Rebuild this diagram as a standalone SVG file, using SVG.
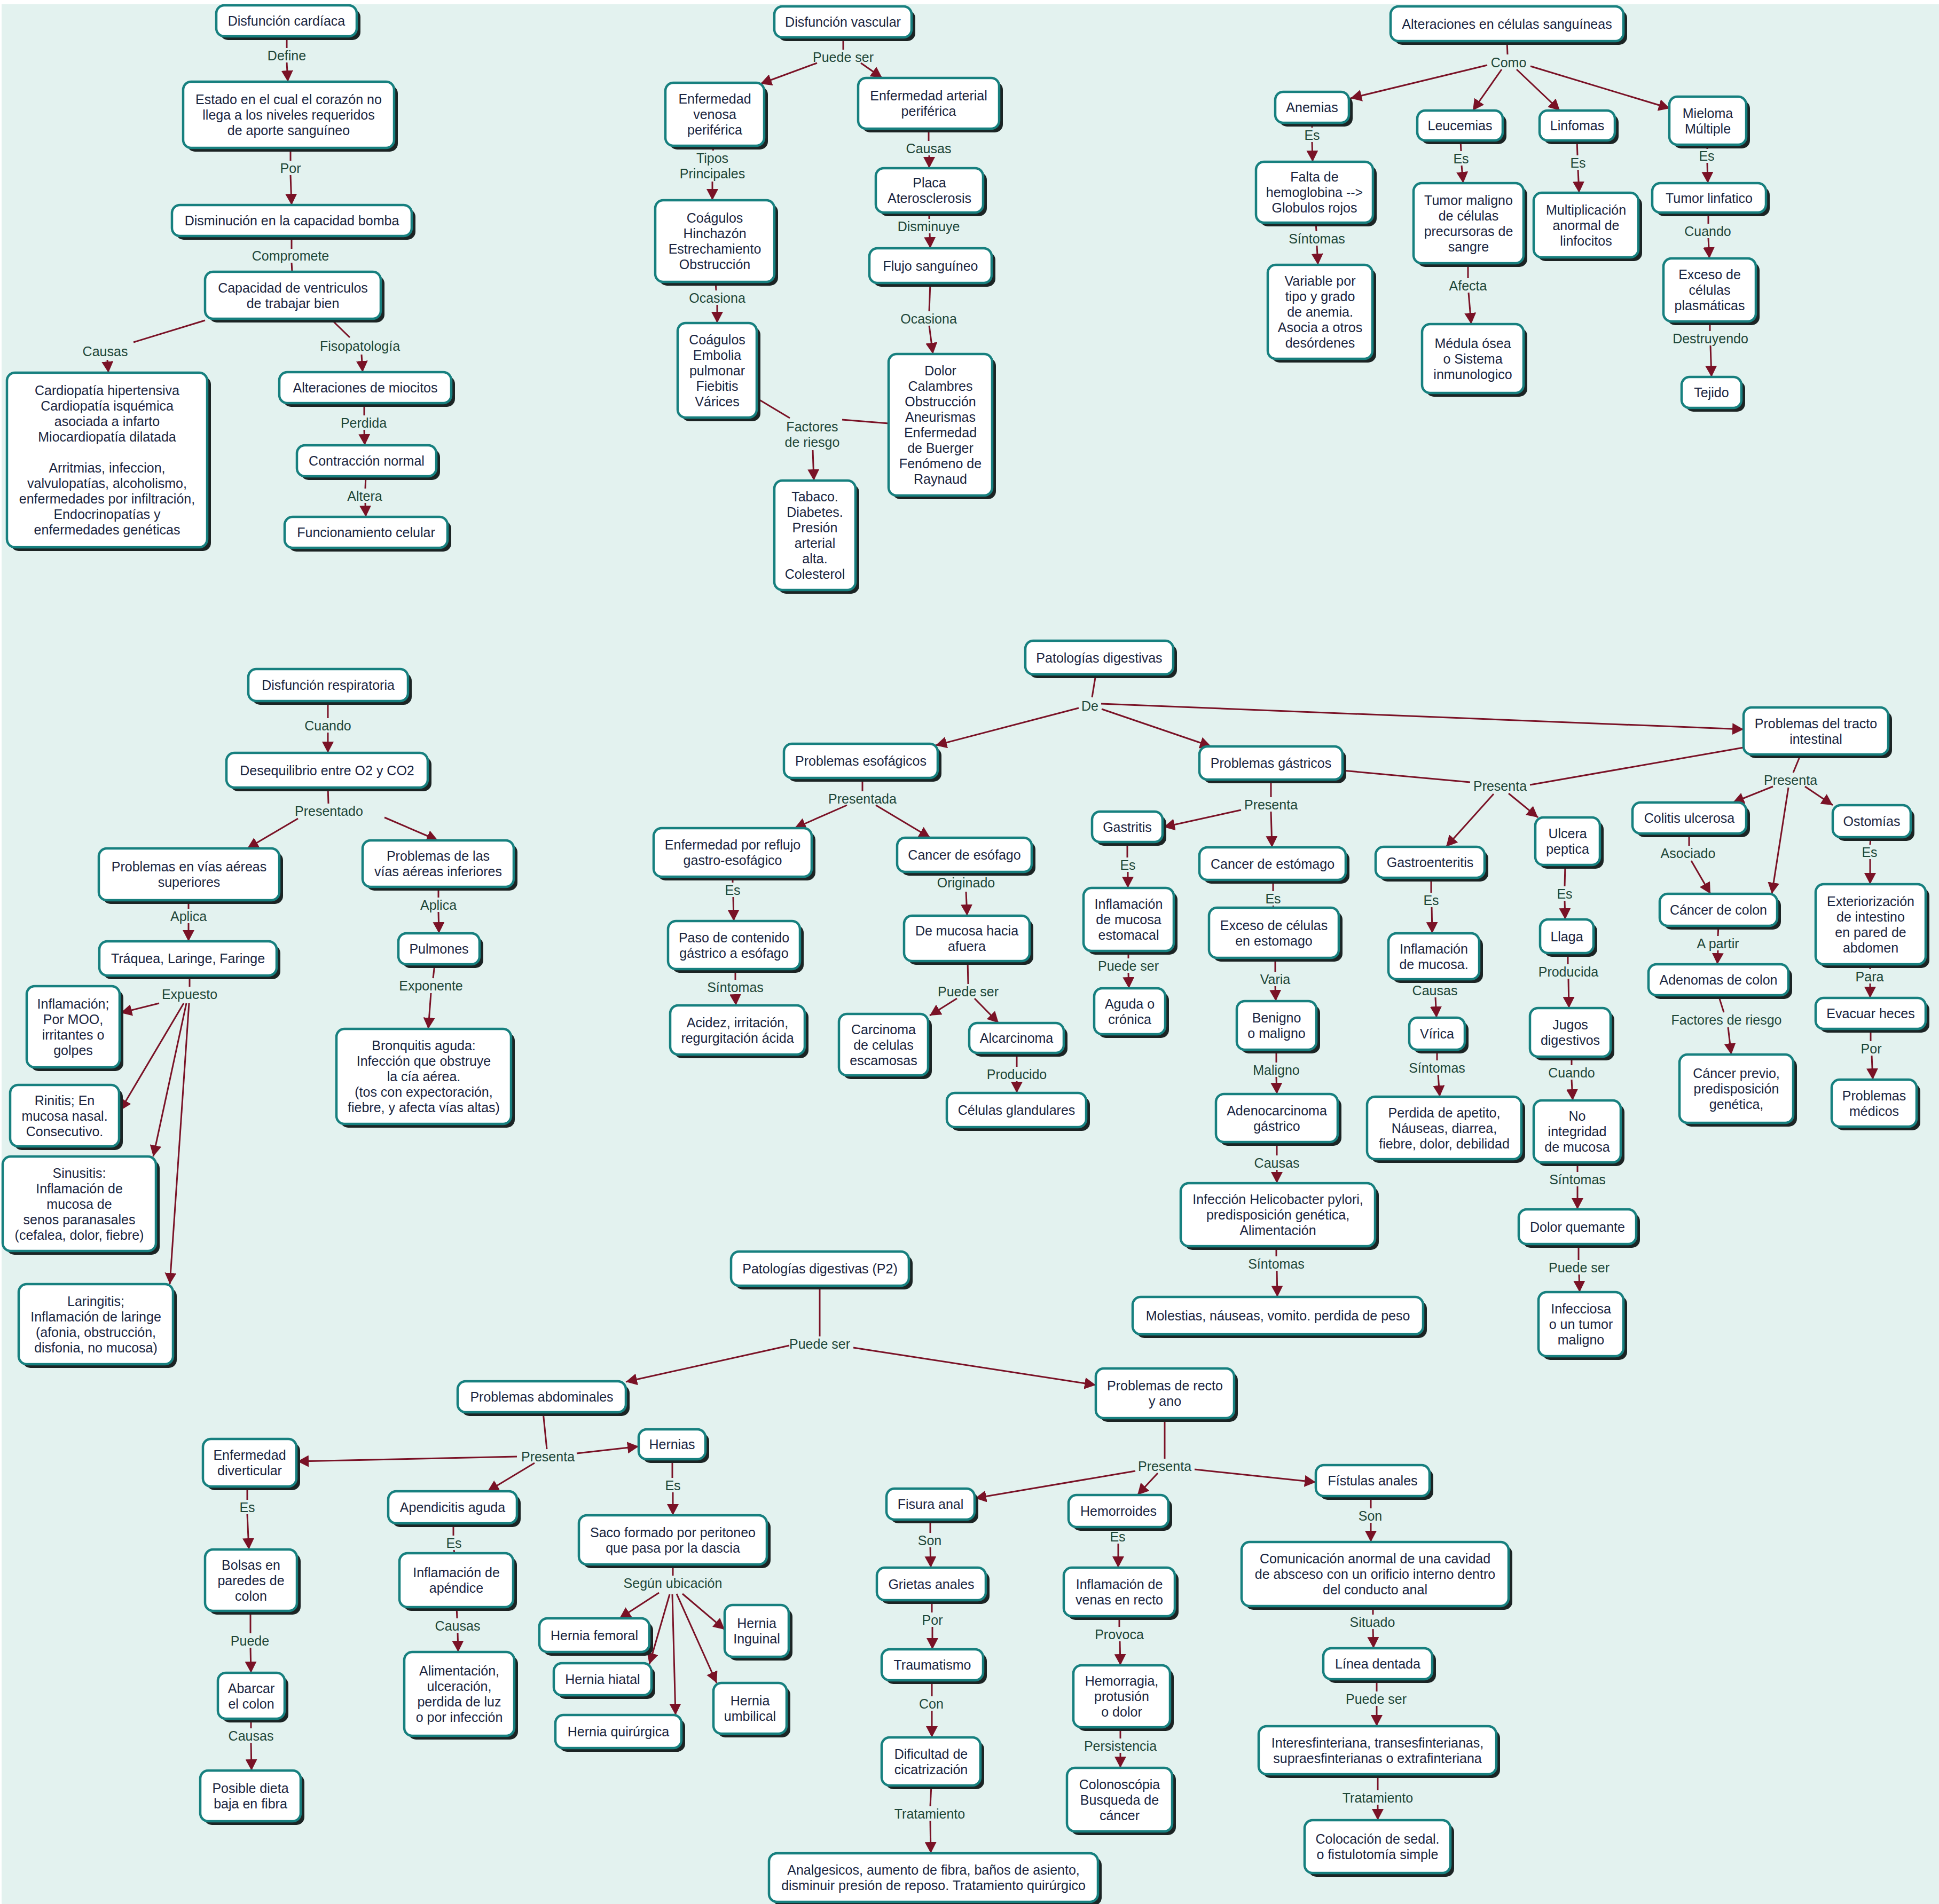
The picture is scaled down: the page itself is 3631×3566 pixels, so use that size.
<svg xmlns="http://www.w3.org/2000/svg" width="3631" height="3566" viewBox="0 0 3631 3566">
<defs>
<style>
.s{fill:#1c2424}
.b{fill:#fff;stroke:#17807f;stroke-width:4.5}
.t{font-family:"Liberation Sans",Arial,sans-serif;font-size:25px;fill:#1a2540;text-anchor:middle}
.l{font-family:"Liberation Sans",Arial,sans-serif;font-size:25px;fill:#1e4638;text-anchor:middle}
.c{stroke:#7a1226;stroke-width:3;fill:none}
.a{stroke:#7a1226;stroke-width:3;fill:none;marker-end:url(#ah)}
</style>
<marker id="ah" markerUnits="userSpaceOnUse" markerWidth="22" markerHeight="22" refX="21" refY="11" orient="auto"><path d="M0,0 L21,11 L0,22 z" fill="#7a1226"/></marker>
</defs>
<rect x="3" y="8" width="3628" height="3558" fill="#e3f2ef"/>

<g id="connectors">
<!-- cardiac -->
<path class="c" d="M537,68 L537,90"/><path class="a" d="M537,117 L539,153"/>
<path class="c" d="M544,277 L544,301"/><path class="a" d="M544,328 L546,384"/>
<path class="c" d="M546,442 L546,466"/><path class="c" d="M546,492 L547,509"/>
<path class="c" d="M384,600 L250,641"/><path class="a" d="M201,674 L203,698"/>
<path class="c" d="M620,598 L655,632"/><path class="a" d="M677,664 L679,697"/>
<path class="c" d="M682,755 L682,778"/><path class="a" d="M682,805 L683,834"/>
<path class="c" d="M685,892 L684,915"/><path class="a" d="M684,942 L685,968"/>
<!-- vascular -->
<path class="c" d="M1579,70 L1579,93"/>
<path class="a" d="M1530,118 L1424,157"/><path class="a" d="M1612,118 L1652,146"/>
<path class="c" d="M1337,273 L1335,282"/><path class="a" d="M1334,340 L1334,375"/>
<path class="c" d="M1340,528 L1341,544"/><path class="a" d="M1343,571 L1343,605"/>
<path class="c" d="M1419,747 L1479,783"/><path class="c" d="M1664,793 L1577,786"/>
<path class="a" d="M1522,843 L1524,900"/>
<path class="c" d="M1739,241 L1739,264"/><path class="a" d="M1740,291 L1740,315"/>
<path class="c" d="M1740,398 L1740,410"/><path class="a" d="M1741,437 L1742,465"/>
<path class="c" d="M1742,530 L1740,583"/><path class="a" d="M1740,610 L1747,663"/>
<!-- blood -->
<path class="c" d="M2822,77 L2823,102"/>
<path class="a" d="M2785,122 L2529,184"/><path class="a" d="M2812,130 L2758,207"/>
<path class="a" d="M2840,130 L2921,207"/><path class="a" d="M2866,124 L3127,203"/>
<path class="c" d="M2457,230 L2457,239"/><path class="a" d="M2457,266 L2458,303"/>
<path class="c" d="M2735,263 L2736,283"/><path class="a" d="M2737,310 L2740,343"/>
<path class="c" d="M2953,263 L2954,291"/><path class="a" d="M2955,318 L2957,361"/>
<path class="c" d="M3197,271 L3197,279"/><path class="a" d="M3197,305 L3198,343"/>
<path class="c" d="M2464,417 L2465,433"/><path class="a" d="M2466,460 L2468,496"/>
<path class="c" d="M2749,493 L2749,521"/><path class="a" d="M2750,548 L2755,607"/>
<path class="c" d="M3199,398 L3199,419"/><path class="a" d="M3199,446 L3201,484"/>
<path class="c" d="M3202,602 L3202,620"/><path class="a" d="M3203,647 L3205,706"/>
<!-- respiratory -->
<path class="c" d="M614,1313 L614,1345"/><path class="a" d="M614,1372 L614,1410"/>
<path class="c" d="M614,1475 L615,1505"/>
<path class="a" d="M558,1533 L463,1589"/><path class="a" d="M720,1531 L820,1574"/>
<path class="c" d="M353,1686 L353,1702"/><path class="a" d="M353,1729 L353,1763"/>
<path class="c" d="M355,1827 L355,1848"/>
<path class="a" d="M298,1879 L226,1897"/><path class="a" d="M344,1879 L225,2080"/>
<path class="a" d="M349,1879 L287,2166"/><path class="a" d="M354,1879 L318,2405"/>
<path class="c" d="M821,1661 L821,1681"/><path class="a" d="M821,1708 L822,1748"/>
<path class="c" d="M814,1806 L811,1832"/><path class="a" d="M807,1860 L802,1927"/>
<!-- digestive -->
<path class="c" d="M2052,1263 L2045,1306"/>
<path class="a" d="M2020,1326 L1752,1396"/><path class="a" d="M2063,1328 L2268,1398"/>
<path class="a" d="M2062,1318 L3265,1366"/>
<path class="c" d="M1615,1457 L1615,1482"/>
<path class="a" d="M1586,1508 L1488,1551"/><path class="a" d="M1640,1508 L1742,1569"/>
<path class="c" d="M1372,1642 L1372,1653"/><path class="a" d="M1373,1680 L1374,1725"/>
<path class="c" d="M1377,1815 L1377,1835"/><path class="a" d="M1377,1862 L1378,1883"/>
<path class="a" d="M1809,1670 L1811,1715"/>
<path class="c" d="M1812,1800 L1813,1843"/>
<path class="a" d="M1792,1870 L1741,1902"/><path class="a" d="M1825,1870 L1870,1916"/>
<path class="c" d="M1904,1972 L1904,1998"/><path class="a" d="M1904,2025 L1904,2047"/>
<path class="c" d="M2111,1577 L2111,1606"/><path class="a" d="M2112,1633 L2112,1663"/>
<path class="c" d="M2113,1781 L2113,1795"/><path class="a" d="M2113,1822 L2114,1851"/>
<path class="c" d="M2380,1460 L2380,1493"/>
<path class="a" d="M2324,1517 L2179,1549"/><path class="a" d="M2380,1520 L2382,1587"/>
<path class="c" d="M2384,1648 L2384,1669"/><path class="c" d="M2384,1696 L2385,1700"/>
<path class="c" d="M2388,1794 L2388,1820"/><path class="a" d="M2388,1847 L2389,1875"/>
<path class="c" d="M2390,1966 L2390,1990"/><path class="a" d="M2390,2017 L2391,2049"/>
<path class="c" d="M2391,2139 L2391,2164"/><path class="a" d="M2391,2191 L2391,2216"/>
<path class="c" d="M2390,2334 L2390,2353"/><path class="a" d="M2391,2380 L2392,2429"/>
<path class="c" d="M2514,1443 L2753,1465"/><path class="c" d="M2865,1470 L3265,1400"/>
<path class="a" d="M2797,1487 L2708,1586"/><path class="a" d="M2825,1486 L2880,1531"/>
<path class="c" d="M2680,1644 L2680,1672"/><path class="a" d="M2681,1699 L2682,1748"/>
<path class="a" d="M2688,1868 L2690,1906"/>
<path class="c" d="M2691,1966 L2691,1986"/><path class="a" d="M2693,2013 L2696,2054"/>
<path class="c" d="M2931,1620 L2930,1660"/><path class="a" d="M2930,1687 L2931,1722"/>
<path class="c" d="M2936,1785 L2936,1806"/><path class="a" d="M2937,1833 L2938,1888"/>
<path class="c" d="M2943,1979 L2943,1995"/><path class="a" d="M2943,2022 L2945,2061"/>
<path class="c" d="M2954,2177 L2954,2195"/><path class="a" d="M2954,2222 L2954,2265"/>
<path class="c" d="M2956,2330 L2956,2360"/><path class="a" d="M2957,2387 L2958,2420"/>
<path class="c" d="M3372,1413 L3358,1447"/>
<path class="a" d="M3320,1473 L3245,1503"/><path class="a" d="M3349,1475 L3318,1674"/>
<path class="a" d="M3380,1473 L3432,1508"/>
<path class="c" d="M3163,1561 L3163,1584"/><path class="a" d="M3167,1612 L3203,1674"/>
<path class="c" d="M3218,1734 L3217,1753"/><path class="a" d="M3217,1780 L3216,1806"/>
<path class="c" d="M3218,1864 L3228,1896"/><path class="a" d="M3236,1924 L3242,1975"/>
<path class="c" d="M3503,1568 L3502,1582"/><path class="a" d="M3502,1609 L3502,1656"/>
<path class="c" d="M3502,1806 L3502,1815"/><path class="a" d="M3502,1842 L3502,1869"/>
<path class="c" d="M3503,1927 L3503,1950"/><path class="a" d="M3505,1977 L3507,2022"/>
<!-- P2 -->
<path class="c" d="M1535,2408 L1535,2503"/>
<path class="a" d="M1478,2520 L1172,2588"/><path class="a" d="M1598,2524 L2052,2594"/>
<path class="c" d="M1017,2645 L1024,2714"/>
<path class="a" d="M968,2728 L557,2737"/><path class="a" d="M1001,2740 L913,2793"/>
<path class="a" d="M1080,2722 L1196,2709"/>
<path class="c" d="M463,2784 L463,2809"/><path class="a" d="M463,2836 L466,2902"/>
<path class="c" d="M469,3017 L469,3059"/><path class="a" d="M469,3086 L470,3133"/>
<path class="c" d="M470,3219 L470,3237"/><path class="a" d="M470,3264 L471,3316"/>
<path class="c" d="M849,2853 L849,2876"/><path class="c" d="M850,2903 L851,2909"/>
<path class="c" d="M855,3010 L856,3031"/><path class="a" d="M857,3058 L858,3094"/>
<path class="c" d="M1259,2733 L1259,2768"/><path class="a" d="M1260,2795 L1260,2838"/>
<path class="c" d="M1260,2930 L1260,2951"/>
<path class="a" d="M1234,2983 L1160,3031"/><path class="a" d="M1254,2986 L1216,3117"/>
<path class="a" d="M1259,2986 L1265,3212"/><path class="a" d="M1267,2985 L1342,3152"/>
<path class="a" d="M1278,2985 L1357,3052"/>
<path class="c" d="M2181,2656 L2181,2732"/>
<path class="a" d="M2126,2755 L1826,2806"/><path class="a" d="M2168,2759 L2130,2800"/>
<path class="a" d="M2237,2752 L2464,2776"/>
<path class="c" d="M1742,2846 L1742,2871"/><path class="a" d="M1742,2898 L1743,2936"/>
<path class="c" d="M1745,2997 L1745,3020"/><path class="a" d="M1746,3047 L1746,3089"/>
<path class="c" d="M1745,3147 L1745,3177"/><path class="a" d="M1745,3204 L1745,3254"/>
<path class="c" d="M1744,3344 L1742,3383"/><path class="a" d="M1742,3410 L1743,3471"/>
<path class="c" d="M2094,2860 L2094,2864"/><path class="a" d="M2094,2891 L2094,2936"/>
<path class="c" d="M2096,3027 L2096,3047"/><path class="a" d="M2097,3074 L2098,3119"/>
<path class="c" d="M2098,3235 L2098,3256"/><path class="a" d="M2098,3283 L2098,3311"/>
<path class="c" d="M2567,2802 L2567,2825"/><path class="a" d="M2567,2852 L2567,2888"/>
<path class="c" d="M2571,3008 L2571,3024"/><path class="a" d="M2571,3051 L2572,3087"/>
<path class="c" d="M2578,3145 L2578,3168"/><path class="a" d="M2578,3195 L2578,3233"/>
<path class="c" d="M2580,3323 L2580,3353"/><path class="a" d="M2580,3380 L2580,3409"/>
</g>

<g id="link-labels">
<text class="l" x="537" y="113">Define</text>
<text class="l" x="544" y="324">Por</text>
<text class="l" x="544" y="488">Compromete</text>
<text class="l" x="197" y="667">Causas</text>
<text class="l" x="674" y="657">Fisopatología</text>
<text class="l" x="681" y="801">Perdida</text>
<text class="l" x="683" y="938">Altera</text>
<text class="l" x="1579" y="116">Puede ser</text>
<text class="l" x="1334" y="305">Tipos<tspan x="1334" dy="29">Principales</tspan></text>
<text class="l" x="1343" y="567">Ocasiona</text>
<text class="l" x="1521" y="808">Factores<tspan x="1521" dy="29">de riesgo</tspan></text>
<text class="l" x="1739" y="287">Causas</text>
<text class="l" x="1739" y="433">Disminuye</text>
<text class="l" x="1739" y="606">Ocasiona</text>
<text class="l" x="2825" y="126">Como</text>
<text class="l" x="2457" y="262">Es</text>
<text class="l" x="2736" y="306">Es</text>
<text class="l" x="2955" y="314">Es</text>
<text class="l" x="3196" y="301">Es</text>
<text class="l" x="2466" y="456">Síntomas</text>
<text class="l" x="2749" y="544">Afecta</text>
<text class="l" x="3198" y="442">Cuando</text>
<text class="l" x="3203" y="643">Destruyendo</text>
<text class="l" x="614" y="1368">Cuando</text>
<text class="l" x="616" y="1528">Presentado</text>
<text class="l" x="353" y="1725">Aplica</text>
<text class="l" x="355" y="1871">Expuesto</text>
<text class="l" x="821" y="1704">Aplica</text>
<text class="l" x="807" y="1855">Exponente</text>
<text class="l" x="2041" y="1331">De</text>
<text class="l" x="1615" y="1505">Presentada</text>
<text class="l" x="1372" y="1676">Es</text>
<text class="l" x="1377" y="1858">Síntomas</text>
<text class="l" x="1809" y="1662">Originado</text>
<text class="l" x="1813" y="1866">Puede ser</text>
<text class="l" x="1904" y="2021">Producido</text>
<text class="l" x="2112" y="1629">Es</text>
<text class="l" x="2113" y="1818">Puede ser</text>
<text class="l" x="2380" y="1516">Presenta</text>
<text class="l" x="2384" y="1692">Es</text>
<text class="l" x="2388" y="1843">Varia</text>
<text class="l" x="2390" y="2013">Maligno</text>
<text class="l" x="2391" y="2187">Causas</text>
<text class="l" x="2390" y="2376">Síntomas</text>
<text class="l" x="2809" y="1481">Presenta</text>
<text class="l" x="2680" y="1695">Es</text>
<text class="l" x="2687" y="1864">Causas</text>
<text class="l" x="2691" y="2009">Síntomas</text>
<text class="l" x="2930" y="1683">Es</text>
<text class="l" x="2937" y="1829">Producida</text>
<text class="l" x="2943" y="2018">Cuando</text>
<text class="l" x="2954" y="2218">Síntomas</text>
<text class="l" x="2957" y="2383">Puede ser</text>
<text class="l" x="3353" y="1470">Presenta</text>
<text class="l" x="3161" y="1607">Asociado</text>
<text class="l" x="3217" y="1776">A partir</text>
<text class="l" x="3233" y="1919">Factores de riesgo</text>
<text class="l" x="3501" y="1605">Es</text>
<text class="l" x="3501" y="1838">Para</text>
<text class="l" x="3504" y="1973">Por</text>
<text class="l" x="1535" y="2526">Puede ser</text>
<text class="l" x="1026" y="2737">Presenta</text>
<text class="l" x="463" y="2832">Es</text>
<text class="l" x="468" y="3082">Puede</text>
<text class="l" x="470" y="3260">Causas</text>
<text class="l" x="850" y="2899">Es</text>
<text class="l" x="857" y="3054">Causas</text>
<text class="l" x="1260" y="2791">Es</text>
<text class="l" x="1260" y="2974">Según ubicación</text>
<text class="l" x="2181" y="2755">Presenta</text>
<text class="l" x="1741" y="2894">Son</text>
<text class="l" x="1746" y="3043">Por</text>
<text class="l" x="1744" y="3200">Con</text>
<text class="l" x="1741" y="3406">Tratamiento</text>
<text class="l" x="2093" y="2887">Es</text>
<text class="l" x="2096" y="3070">Provoca</text>
<text class="l" x="2098" y="3279">Persistencia</text>
<text class="l" x="2566" y="2848">Son</text>
<text class="l" x="2570" y="3047">Situado</text>
<text class="l" x="2577" y="3191">Puede ser</text>
<text class="l" x="2580" y="3376">Tratamiento</text>
</g>

<g id="n-disf-cardiaca"><rect class="s" x="412" y="17" width="263" height="58" rx="15"/><rect class="b" x="405" y="10" width="263" height="58" rx="15"/><text class="t" x="536.5" y="48">Disfunción cardíaca</text></g>
<g id="n-estado"><rect class="s" x="350" y="160" width="395" height="124" rx="15"/><rect class="b" x="343" y="153" width="395" height="124" rx="15"/><text class="t" x="540.5" y="195">Estado en el cual el corazón no<tspan x="540.5" dy="29">llega a los niveles requeridos</tspan><tspan x="540.5" dy="29">de aporte sanguíneo</tspan></text></g>
<g id="n-disminucion"><rect class="s" x="329" y="391" width="449" height="58" rx="15"/><rect class="b" x="322" y="384" width="449" height="58" rx="15"/><text class="t" x="546.5" y="422">Disminución en la capacidad bomba</text></g>
<g id="n-capacidad"><rect class="s" x="391" y="516" width="329" height="88" rx="15"/><rect class="b" x="384" y="509" width="329" height="88" rx="15"/><text class="t" x="548.5" y="547.5">Capacidad de ventriculos<tspan x="548.5" dy="29">de trabajar bien</tspan></text></g>
<g id="n-cardiopatias"><rect class="s" x="20" y="705" width="375" height="327" rx="15"/><rect class="b" x="13" y="698" width="375" height="327" rx="15"/><text class="t" x="200.5" y="740">Cardiopatía hipertensiva<tspan x="200.5" dy="29">Cardiopatía isquémica</tspan><tspan x="200.5" dy="29">asociada a infarto</tspan><tspan x="200.5" dy="29">Miocardiopatía dilatada</tspan><tspan x="200.5" dy="58">Arritmias, infeccion,</tspan><tspan x="200.5" dy="29">valvulopatías, alcoholismo,</tspan><tspan x="200.5" dy="29">enfermedades por infiltración,</tspan><tspan x="200.5" dy="29">Endocrinopatías y</tspan><tspan x="200.5" dy="29">enfermedades genéticas</tspan></text></g>
<g id="n-alt-miocitos"><rect class="s" x="530" y="704" width="322" height="58" rx="15"/><rect class="b" x="523" y="697" width="322" height="58" rx="15"/><text class="t" x="684" y="735">Alteraciones de miocitos</text></g>
<g id="n-contraccion"><rect class="s" x="563" y="841" width="261" height="58" rx="15"/><rect class="b" x="556" y="834" width="261" height="58" rx="15"/><text class="t" x="686.5" y="872">Contracción normal</text></g>
<g id="n-funcionamiento"><rect class="s" x="540" y="975" width="305" height="58" rx="15"/><rect class="b" x="533" y="968" width="305" height="58" rx="15"/><text class="t" x="685.5" y="1006">Funcionamiento celular</text></g>

<g id="n-disf-vascular"><rect class="s" x="1457" y="19" width="257" height="58" rx="15"/><rect class="b" x="1450" y="12" width="257" height="58" rx="15"/><text class="t" x="1578.5" y="50">Disfunción vascular</text></g>
<g id="n-venosa"><rect class="s" x="1253" y="162" width="185" height="118" rx="15"/><rect class="b" x="1246" y="155" width="185" height="118" rx="15"/><text class="t" x="1338.5" y="194">Enfermedad<tspan x="1338.5" dy="29">venosa</tspan><tspan x="1338.5" dy="29">periférica</tspan></text></g>
<g id="n-arterial"><rect class="s" x="1614" y="153" width="264" height="95" rx="15"/><rect class="b" x="1607" y="146" width="264" height="95" rx="15"/><text class="t" x="1739" y="188">Enfermedad arterial<tspan x="1739" dy="29">periférica</tspan></text></g>
<g id="n-coagulos1"><rect class="s" x="1234" y="382" width="223" height="153" rx="15"/><rect class="b" x="1227" y="375" width="223" height="153" rx="15"/><text class="t" x="1338.5" y="417">Coágulos<tspan x="1338.5" dy="29">Hinchazón</tspan><tspan x="1338.5" dy="29">Estrechamiento</tspan><tspan x="1338.5" dy="29">Obstrucción</tspan></text></g>
<g id="n-coagulos2"><rect class="s" x="1276" y="612" width="148" height="177" rx="15"/><rect class="b" x="1269" y="605" width="148" height="177" rx="15"/><text class="t" x="1343" y="644.5">Coágulos<tspan x="1343" dy="29">Embolia</tspan><tspan x="1343" dy="29">pulmonar</tspan><tspan x="1343" dy="29">Fiebitis</tspan><tspan x="1343" dy="29">Várices</tspan></text></g>
<g id="n-tabaco"><rect class="s" x="1457" y="907" width="152" height="205" rx="15"/><rect class="b" x="1450" y="900" width="152" height="205" rx="15"/><text class="t" x="1526" y="939">Tabaco.<tspan x="1526" dy="29">Diabetes.</tspan><tspan x="1526" dy="29">Presión</tspan><tspan x="1526" dy="29">arterial</tspan><tspan x="1526" dy="29">alta.</tspan><tspan x="1526" dy="29">Colesterol</tspan></text></g>
<g id="n-placa"><rect class="s" x="1647" y="322" width="201" height="83" rx="15"/><rect class="b" x="1640" y="315" width="201" height="83" rx="15"/><text class="t" x="1740.5" y="351">Placa<tspan x="1740.5" dy="29">Aterosclerosis</tspan></text></g>
<g id="n-flujo"><rect class="s" x="1635" y="472" width="229" height="65" rx="15"/><rect class="b" x="1628" y="465" width="229" height="65" rx="15"/><text class="t" x="1742.5" y="506.5">Flujo sanguíneo</text></g>
<g id="n-dolor"><rect class="s" x="1671" y="670" width="194" height="265" rx="15"/><rect class="b" x="1664" y="663" width="194" height="265" rx="15"/><text class="t" x="1761" y="703">Dolor<tspan x="1761" dy="29">Calambres</tspan><tspan x="1761" dy="29">Obstrucción</tspan><tspan x="1761" dy="29">Aneurismas</tspan><tspan x="1761" dy="29">Enfermedad</tspan><tspan x="1761" dy="29">de Buerger</tspan><tspan x="1761" dy="29">Fenómeno de</tspan><tspan x="1761" dy="29">Raynaud</tspan></text></g>

<g id="n-alt-celulas"><rect class="s" x="2611" y="19" width="436" height="65" rx="15"/><rect class="b" x="2604" y="12" width="436" height="65" rx="15"/><text class="t" x="2822" y="53.5">Alteraciones en células sanguíneas</text></g>
<g id="n-anemias"><rect class="s" x="2395" y="179" width="138" height="58" rx="15"/><rect class="b" x="2388" y="172" width="138" height="58" rx="15"/><text class="t" x="2457" y="210">Anemias</text></g>
<g id="n-leucemias"><rect class="s" x="2661" y="214" width="160" height="56" rx="15"/><rect class="b" x="2654" y="207" width="160" height="56" rx="15"/><text class="t" x="2734" y="244">Leucemias</text></g>
<g id="n-linfomas"><rect class="s" x="2890" y="214" width="141" height="56" rx="15"/><rect class="b" x="2883" y="207" width="141" height="56" rx="15"/><text class="t" x="2953.5" y="244">Linfomas</text></g>
<g id="n-mieloma"><rect class="s" x="3133" y="188" width="144" height="90" rx="15"/><rect class="b" x="3126" y="181" width="144" height="90" rx="15"/><text class="t" x="3198" y="220.5">Mieloma<tspan x="3198" dy="29">Múltiple</tspan></text></g>
<g id="n-falta"><rect class="s" x="2359" y="310" width="219" height="114" rx="15"/><rect class="b" x="2352" y="303" width="219" height="114" rx="15"/><text class="t" x="2461.5" y="340">Falta de<tspan x="2461.5" dy="29">hemoglobina --&gt;</tspan><tspan x="2461.5" dy="29">Globulos rojos</tspan></text></g>
<g id="n-variable"><rect class="s" x="2381" y="503" width="196" height="176" rx="15"/><rect class="b" x="2374" y="496" width="196" height="176" rx="15"/><text class="t" x="2472" y="535">Variable por<tspan x="2472" dy="29">tipo y grado</tspan><tspan x="2472" dy="29">de anemia.</tspan><tspan x="2472" dy="29">Asocia a otros</tspan><tspan x="2472" dy="29">desórdenes</tspan></text></g>
<g id="n-tumor-maligno"><rect class="s" x="2654" y="350" width="206" height="150" rx="15"/><rect class="b" x="2647" y="343" width="206" height="150" rx="15"/><text class="t" x="2750" y="383.5">Tumor maligno<tspan x="2750" dy="29">de células</tspan><tspan x="2750" dy="29">precursoras de</tspan><tspan x="2750" dy="29">sangre</tspan></text></g>
<g id="n-medula"><rect class="s" x="2670" y="614" width="190" height="129" rx="15"/><rect class="b" x="2663" y="607" width="190" height="129" rx="15"/><text class="t" x="2758" y="651.5">Médula ósea<tspan x="2758" dy="29">o Sistema</tspan><tspan x="2758" dy="29">inmunologico</tspan></text></g>
<g id="n-multiplicacion"><rect class="s" x="2879" y="368" width="196" height="121" rx="15"/><rect class="b" x="2872" y="361" width="196" height="121" rx="15"/><text class="t" x="2970" y="401.5">Multiplicación<tspan x="2970" dy="29">anormal de</tspan><tspan x="2970" dy="29">linfocitos</tspan></text></g>
<g id="n-tumor-linfatico"><rect class="s" x="3101" y="350" width="213" height="55" rx="15"/><rect class="b" x="3094" y="343" width="213" height="55" rx="15"/><text class="t" x="3200.5" y="379.5">Tumor linfatico</text></g>
<g id="n-exceso-plasm"><rect class="s" x="3122" y="491" width="173" height="118" rx="15"/><rect class="b" x="3115" y="484" width="173" height="118" rx="15"/><text class="t" x="3201.5" y="523">Exceso de<tspan x="3201.5" dy="29">células</tspan><tspan x="3201.5" dy="29">plasmáticas</tspan></text></g>
<g id="n-tejido"><rect class="s" x="3156" y="713" width="112" height="58" rx="15"/><rect class="b" x="3149" y="706" width="112" height="58" rx="15"/><text class="t" x="3205" y="744">Tejido</text></g>

<g id="n-disf-resp"><rect class="s" x="472" y="1260" width="299" height="60" rx="15"/><rect class="b" x="465" y="1253" width="299" height="60" rx="15"/><text class="t" x="614.5" y="1292">Disfunción respiratoria</text></g>
<g id="n-desequilibrio"><rect class="s" x="431" y="1417" width="377" height="65" rx="15"/><rect class="b" x="424" y="1410" width="377" height="65" rx="15"/><text class="t" x="612.5" y="1451.5">Desequilibrio entre O2 y CO2</text></g>
<g id="n-vias-sup"><rect class="s" x="192" y="1596" width="338" height="97" rx="15"/><rect class="b" x="185" y="1589" width="338" height="97" rx="15"/><text class="t" x="354" y="1632">Problemas en vías aéreas<tspan x="354" dy="29">superiores</tspan></text></g>
<g id="n-traquea"><rect class="s" x="193" y="1770" width="332" height="64" rx="15"/><rect class="b" x="186" y="1763" width="332" height="64" rx="15"/><text class="t" x="352" y="1804">Tráquea, Laringe, Faringe</text></g>
<g id="n-inflamacion-moo"><rect class="s" x="57" y="1854" width="174" height="152" rx="15"/><rect class="b" x="50" y="1847" width="174" height="152" rx="15"/><text class="t" x="137" y="1888.5">Inflamación;<tspan x="137" dy="29">Por MOO,</tspan><tspan x="137" dy="29">irritantes o</tspan><tspan x="137" dy="29">golpes</tspan></text></g>
<g id="n-rinitis"><rect class="s" x="26" y="2039" width="204" height="115" rx="15"/><rect class="b" x="19" y="2032" width="204" height="115" rx="15"/><text class="t" x="121" y="2069.5">Rinitis; En<tspan x="121" dy="29">mucosa nasal.</tspan><tspan x="121" dy="29">Consecutivo.</tspan></text></g>
<g id="n-sinusitis"><rect class="s" x="12" y="2173" width="287" height="177" rx="15"/><rect class="b" x="5" y="2166" width="287" height="177" rx="15"/><text class="t" x="148.5" y="2205.5">Sinusitis:<tspan x="148.5" dy="29">Inflamación de</tspan><tspan x="148.5" dy="29">mucosa de</tspan><tspan x="148.5" dy="29">senos paranasales</tspan><tspan x="148.5" dy="29">(cefalea, dolor, fiebre)</tspan></text></g>
<g id="n-laringitis"><rect class="s" x="42" y="2412" width="289" height="150" rx="15"/><rect class="b" x="35" y="2405" width="289" height="150" rx="15"/><text class="t" x="179.5" y="2445.5">Laringitis;<tspan x="179.5" dy="29">Inflamación de laringe</tspan><tspan x="179.5" dy="29">(afonia, obstrucción,</tspan><tspan x="179.5" dy="29">disfonia, no mucosa)</tspan></text></g>
<g id="n-vias-inf"><rect class="s" x="686" y="1581" width="283" height="87" rx="15"/><rect class="b" x="679" y="1574" width="283" height="87" rx="15"/><text class="t" x="820.5" y="1612">Problemas de las<tspan x="820.5" dy="29">vías aéreas inferiores</tspan></text></g>
<g id="n-pulmones"><rect class="s" x="753" y="1755" width="152" height="58" rx="15"/><rect class="b" x="746" y="1748" width="152" height="58" rx="15"/><text class="t" x="822" y="1786">Pulmones</text></g>
<g id="n-bronquitis"><rect class="s" x="637" y="1934" width="327" height="178" rx="15"/><rect class="b" x="630" y="1927" width="327" height="178" rx="15"/><text class="t" x="793.5" y="1967">Bronquitis aguda:<tspan x="793.5" dy="29">Infección que obstruye</tspan><tspan x="793.5" dy="29">la cía aérea.</tspan><tspan x="793.5" dy="29">(tos con expectoración,</tspan><tspan x="793.5" dy="29">fiebre, y afecta vías altas)</tspan></text></g>

<g id="n-pat-digestivas"><rect class="s" x="1927" y="1207" width="277" height="63" rx="15"/><rect class="b" x="1920" y="1200" width="277" height="63" rx="15"/><text class="t" x="2058.5" y="1240.5">Patologías digestivas</text></g>
<g id="n-esofagicos"><rect class="s" x="1475" y="1400" width="288" height="64" rx="15"/><rect class="b" x="1468" y="1393" width="288" height="64" rx="15"/><text class="t" x="1612" y="1434">Problemas esofágicos</text></g>
<g id="n-reflujo"><rect class="s" x="1231" y="1558" width="296" height="91" rx="15"/><rect class="b" x="1224" y="1551" width="296" height="91" rx="15"/><text class="t" x="1372" y="1591">Enfermedad por reflujo<tspan x="1372" dy="29">gastro-esofágico</tspan></text></g>
<g id="n-cancer-esofago"><rect class="s" x="1687" y="1576" width="252" height="64" rx="15"/><rect class="b" x="1680" y="1569" width="252" height="64" rx="15"/><text class="t" x="1806" y="1610">Cancer de esófago</text></g>
<g id="n-paso"><rect class="s" x="1258" y="1732" width="247" height="90" rx="15"/><rect class="b" x="1251" y="1725" width="247" height="90" rx="15"/><text class="t" x="1374.5" y="1764.5">Paso de contenido<tspan x="1374.5" dy="29">gástrico a esófago</tspan></text></g>
<g id="n-acidez"><rect class="s" x="1262" y="1890" width="252" height="92" rx="15"/><rect class="b" x="1255" y="1883" width="252" height="92" rx="15"/><text class="t" x="1381" y="1923.5">Acidez, irritación,<tspan x="1381" dy="29">regurgitación ácida</tspan></text></g>
<g id="n-mucosa-afuera"><rect class="s" x="1700" y="1722" width="235" height="85" rx="15"/><rect class="b" x="1693" y="1715" width="235" height="85" rx="15"/><text class="t" x="1810.5" y="1752">De mucosa hacia<tspan x="1810.5" dy="29">afuera</tspan></text></g>
<g id="n-carcinoma"><rect class="s" x="1578" y="1906" width="167" height="115" rx="15"/><rect class="b" x="1571" y="1899" width="167" height="115" rx="15"/><text class="t" x="1654.5" y="1936.5">Carcinoma<tspan x="1654.5" dy="29">de celulas</tspan><tspan x="1654.5" dy="29">escamosas</tspan></text></g>
<g id="n-alcarcinoma"><rect class="s" x="1822" y="1923" width="177" height="56" rx="15"/><rect class="b" x="1815" y="1916" width="177" height="56" rx="15"/><text class="t" x="1903.5" y="1953">Alcarcinoma</text></g>
<g id="n-glandulares"><rect class="s" x="1780" y="2054" width="261" height="64" rx="15"/><rect class="b" x="1773" y="2047" width="261" height="64" rx="15"/><text class="t" x="1903.5" y="2088">Células glandulares</text></g>
<g id="n-gastritis"><rect class="s" x="2052" y="1527" width="132" height="57" rx="15"/><rect class="b" x="2045" y="1520" width="132" height="57" rx="15"/><text class="t" x="2111" y="1557.5">Gastritis</text></g>
<g id="n-inflam-estomacal"><rect class="s" x="2036" y="1670" width="169" height="118" rx="15"/><rect class="b" x="2029" y="1663" width="169" height="118" rx="15"/><text class="t" x="2113.5" y="1702">Inflamación<tspan x="2113.5" dy="29">de mucosa</tspan><tspan x="2113.5" dy="29">estomacal</tspan></text></g>
<g id="n-aguda"><rect class="s" x="2056" y="1858" width="133" height="86" rx="15"/><rect class="b" x="2049" y="1851" width="133" height="86" rx="15"/><text class="t" x="2115.5" y="1888.5">Aguda o<tspan x="2115.5" dy="29">crónica</tspan></text></g>
<g id="n-gastricos"><rect class="s" x="2253" y="1405" width="268" height="62" rx="15"/><rect class="b" x="2246" y="1398" width="268" height="62" rx="15"/><text class="t" x="2380" y="1438">Problemas gástricos</text></g>
<g id="n-cancer-estomago"><rect class="s" x="2253" y="1594" width="274" height="61" rx="15"/><rect class="b" x="2246" y="1587" width="274" height="61" rx="15"/><text class="t" x="2383" y="1626.5">Cancer de estómago</text></g>
<g id="n-exceso-estomago"><rect class="s" x="2271" y="1707" width="243" height="94" rx="15"/><rect class="b" x="2264" y="1700" width="243" height="94" rx="15"/><text class="t" x="2385.5" y="1741.5">Exceso de células<tspan x="2385.5" dy="29">en estomago</tspan></text></g>
<g id="n-benigno"><rect class="s" x="2323" y="1882" width="149" height="91" rx="15"/><rect class="b" x="2316" y="1875" width="149" height="91" rx="15"/><text class="t" x="2390.5" y="1915">Benigno<tspan x="2390.5" dy="29">o maligno</tspan></text></g>
<g id="n-adenocarcinoma"><rect class="s" x="2284" y="2056" width="228" height="90" rx="15"/><rect class="b" x="2277" y="2049" width="228" height="90" rx="15"/><text class="t" x="2391" y="2088.5">Adenocarcinoma<tspan x="2391" dy="29">gástrico</tspan></text></g>
<g id="n-helicobacter"><rect class="s" x="2218" y="2223" width="364" height="118" rx="15"/><rect class="b" x="2211" y="2216" width="364" height="118" rx="15"/><text class="t" x="2393" y="2255">Infección Helicobacter pylori,<tspan x="2393" dy="29">predisposición genética,</tspan><tspan x="2393" dy="29">Alimentación</tspan></text></g>
<g id="n-molestias"><rect class="s" x="2128" y="2436" width="544" height="70" rx="15"/><rect class="b" x="2121" y="2429" width="544" height="70" rx="15"/><text class="t" x="2393" y="2473">Molestias, náuseas, vomito. perdida de peso</text></g>
<g id="n-gastroenteritis"><rect class="s" x="2583" y="1593" width="204" height="58" rx="15"/><rect class="b" x="2576" y="1586" width="204" height="58" rx="15"/><text class="t" x="2678" y="1624">Gastroenteritis</text></g>
<g id="n-ulcera"><rect class="s" x="2882" y="1538" width="121" height="89" rx="15"/><rect class="b" x="2875" y="1531" width="121" height="89" rx="15"/><text class="t" x="2935.5" y="1570">Ulcera<tspan x="2935.5" dy="29">peptica</tspan></text></g>
<g id="n-inflam-mucosa"><rect class="s" x="2607" y="1755" width="170" height="86" rx="15"/><rect class="b" x="2600" y="1748" width="170" height="86" rx="15"/><text class="t" x="2685" y="1785.5">Inflamación<tspan x="2685" dy="29">de mucosa.</tspan></text></g>
<g id="n-virica"><rect class="s" x="2646" y="1913" width="104" height="60" rx="15"/><rect class="b" x="2639" y="1906" width="104" height="60" rx="15"/><text class="t" x="2691" y="1945">Vírica</text></g>
<g id="n-perdida-apetito"><rect class="s" x="2567" y="2061" width="289" height="117" rx="15"/><rect class="b" x="2560" y="2054" width="289" height="117" rx="15"/><text class="t" x="2704.5" y="2092.5">Perdida de apetito,<tspan x="2704.5" dy="29">Náuseas, diarrea,</tspan><tspan x="2704.5" dy="29">fiebre, dolor, debilidad</tspan></text></g>
<g id="n-llaga"><rect class="s" x="2891" y="1729" width="100" height="63" rx="15"/><rect class="b" x="2884" y="1722" width="100" height="63" rx="15"/><text class="t" x="2934" y="1762.5">Llaga</text></g>
<g id="n-jugos"><rect class="s" x="2872" y="1895" width="151" height="91" rx="15"/><rect class="b" x="2865" y="1888" width="151" height="91" rx="15"/><text class="t" x="2940.5" y="1928">Jugos<tspan x="2940.5" dy="29">digestivos</tspan></text></g>
<g id="n-no-integridad"><rect class="s" x="2879" y="2068" width="163" height="116" rx="15"/><rect class="b" x="2872" y="2061" width="163" height="116" rx="15"/><text class="t" x="2953.5" y="2099">No<tspan x="2953.5" dy="29">integridad</tspan><tspan x="2953.5" dy="29">de mucosa</tspan></text></g>
<g id="n-dolor-quemante"><rect class="s" x="2851" y="2272" width="220" height="65" rx="15"/><rect class="b" x="2844" y="2265" width="220" height="65" rx="15"/><text class="t" x="2954" y="2306.5">Dolor quemante</text></g>
<g id="n-infecciosa"><rect class="s" x="2888" y="2427" width="159" height="120" rx="15"/><rect class="b" x="2881" y="2420" width="159" height="120" rx="15"/><text class="t" x="2960.5" y="2460">Infecciosa<tspan x="2960.5" dy="29">o un tumor</tspan><tspan x="2960.5" dy="29">maligno</tspan></text></g>
<g id="n-tracto"><rect class="s" x="3272" y="1332" width="271" height="88" rx="15"/><rect class="b" x="3265" y="1325" width="271" height="88" rx="15"/><text class="t" x="3400.5" y="1363.5">Problemas del tracto<tspan x="3400.5" dy="29">intestinal</tspan></text></g>
<g id="n-colitis"><rect class="s" x="3064" y="1510" width="213" height="58" rx="15"/><rect class="b" x="3057" y="1503" width="213" height="58" rx="15"/><text class="t" x="3163.5" y="1541">Colitis ulcerosa</text></g>
<g id="n-cancer-colon"><rect class="s" x="3115" y="1681" width="220" height="60" rx="15"/><rect class="b" x="3108" y="1674" width="220" height="60" rx="15"/><text class="t" x="3218" y="1713">Cáncer de colon</text></g>
<g id="n-adenomas"><rect class="s" x="3094" y="1813" width="262" height="58" rx="15"/><rect class="b" x="3087" y="1806" width="262" height="58" rx="15"/><text class="t" x="3218" y="1844">Adenomas de colon</text></g>
<g id="n-cancer-previo"><rect class="s" x="3152" y="1982" width="213" height="128" rx="15"/><rect class="b" x="3145" y="1975" width="213" height="128" rx="15"/><text class="t" x="3251.5" y="2019">Cáncer previo,<tspan x="3251.5" dy="29">predisposición</tspan><tspan x="3251.5" dy="29">genética,</tspan></text></g>
<g id="n-ostomias"><rect class="s" x="3439" y="1515" width="146" height="60" rx="15"/><rect class="b" x="3432" y="1508" width="146" height="60" rx="15"/><text class="t" x="3505" y="1547">Ostomías</text></g>
<g id="n-exteriorizacion"><rect class="s" x="3407" y="1663" width="206" height="150" rx="15"/><rect class="b" x="3400" y="1656" width="206" height="150" rx="15"/><text class="t" x="3503" y="1696.5">Exteriorización<tspan x="3503" dy="29">de intestino</tspan><tspan x="3503" dy="29">en pared de</tspan><tspan x="3503" dy="29">abdomen</tspan></text></g>
<g id="n-evacuar"><rect class="s" x="3407" y="1876" width="206" height="58" rx="15"/><rect class="b" x="3400" y="1869" width="206" height="58" rx="15"/><text class="t" x="3503" y="1907">Evacuar heces</text></g>
<g id="n-prob-medicos"><rect class="s" x="3437" y="2029" width="159" height="88" rx="15"/><rect class="b" x="3430" y="2022" width="159" height="88" rx="15"/><text class="t" x="3509.5" y="2060.5">Problemas<tspan x="3509.5" dy="29">médicos</tspan></text></g>

<g id="n-pat-p2"><rect class="s" x="1376" y="2351" width="333" height="64" rx="15"/><rect class="b" x="1369" y="2344" width="333" height="64" rx="15"/><text class="t" x="1535.5" y="2385">Patologías digestivas (P2)</text></g>
<g id="n-abdominales"><rect class="s" x="864" y="2594" width="315" height="58" rx="15"/><rect class="b" x="857" y="2587" width="315" height="58" rx="15"/><text class="t" x="1014.5" y="2625">Problemas abdominales</text></g>
<g id="n-recto"><rect class="s" x="2059" y="2570" width="259" height="93" rx="15"/><rect class="b" x="2052" y="2563" width="259" height="93" rx="15"/><text class="t" x="2181.5" y="2604">Problemas de recto<tspan x="2181.5" dy="29">y ano</tspan></text></g>
<g id="n-diverticular"><rect class="s" x="387" y="2702" width="175" height="89" rx="15"/><rect class="b" x="380" y="2695" width="175" height="89" rx="15"/><text class="t" x="467.5" y="2734">Enfermedad<tspan x="467.5" dy="29">diverticular</tspan></text></g>
<g id="n-hernias"><rect class="s" x="1203" y="2684" width="125" height="56" rx="15"/><rect class="b" x="1196" y="2677" width="125" height="56" rx="15"/><text class="t" x="1258.5" y="2714">Hernias</text></g>
<g id="n-apendicitis"><rect class="s" x="734" y="2800" width="241" height="60" rx="15"/><rect class="b" x="727" y="2793" width="241" height="60" rx="15"/><text class="t" x="847.5" y="2832">Apendicitis aguda</text></g>
<g id="n-bolsas"><rect class="s" x="391" y="2909" width="172" height="115" rx="15"/><rect class="b" x="384" y="2902" width="172" height="115" rx="15"/><text class="t" x="470" y="2939.5">Bolsas en<tspan x="470" dy="29">paredes de</tspan><tspan x="470" dy="29">colon</tspan></text></g>
<g id="n-abarcar"><rect class="s" x="415" y="3140" width="125" height="86" rx="15"/><rect class="b" x="408" y="3133" width="125" height="86" rx="15"/><text class="t" x="470.5" y="3170.5">Abarcar<tspan x="470.5" dy="29">el colon</tspan></text></g>
<g id="n-dieta"><rect class="s" x="382" y="3323" width="188" height="95" rx="15"/><rect class="b" x="375" y="3316" width="188" height="95" rx="15"/><text class="t" x="469" y="3358">Posible dieta<tspan x="469" dy="29">baja en fibra</tspan></text></g>
<g id="n-inflam-apendice"><rect class="s" x="755" y="2916" width="213" height="101" rx="15"/><rect class="b" x="748" y="2909" width="213" height="101" rx="15"/><text class="t" x="854.5" y="2954">Inflamación de<tspan x="854.5" dy="29">apéndice</tspan></text></g>
<g id="n-alimentacion"><rect class="s" x="764" y="3101" width="206" height="157" rx="15"/><rect class="b" x="757" y="3094" width="206" height="157" rx="15"/><text class="t" x="860" y="3138">Alimentación,<tspan x="860" dy="29">ulceración,</tspan><tspan x="860" dy="29">perdida de luz</tspan><tspan x="860" dy="29">o por infección</tspan></text></g>
<g id="n-saco"><rect class="s" x="1091" y="2845" width="352" height="92" rx="15"/><rect class="b" x="1084" y="2838" width="352" height="92" rx="15"/><text class="t" x="1260" y="2878.5">Saco formado por peritoneo<tspan x="1260" dy="29">que pasa por la dascia</tspan></text></g>
<g id="n-h-femoral"><rect class="s" x="1017" y="3038" width="206" height="63" rx="15"/><rect class="b" x="1010" y="3031" width="206" height="63" rx="15"/><text class="t" x="1113" y="3071.5">Hernia femoral</text></g>
<g id="n-h-inguinal"><rect class="s" x="1364" y="3013" width="120" height="97" rx="15"/><rect class="b" x="1357" y="3006" width="120" height="97" rx="15"/><text class="t" x="1417" y="3049">Hernia<tspan x="1417" dy="29">Inguinal</tspan></text></g>
<g id="n-h-hiatal"><rect class="s" x="1044" y="3122" width="183" height="60" rx="15"/><rect class="b" x="1037" y="3115" width="183" height="60" rx="15"/><text class="t" x="1128.5" y="3154">Hernia hiatal</text></g>
<g id="n-h-umbilical"><rect class="s" x="1343" y="3159" width="137" height="95" rx="15"/><rect class="b" x="1336" y="3152" width="137" height="95" rx="15"/><text class="t" x="1404.5" y="3194">Hernia<tspan x="1404.5" dy="29">umbilical</tspan></text></g>
<g id="n-h-quirurgica"><rect class="s" x="1047" y="3219" width="236" height="62" rx="15"/><rect class="b" x="1040" y="3212" width="236" height="62" rx="15"/><text class="t" x="1158" y="3252">Hernia quirúrgica</text></g>
<g id="n-fisura"><rect class="s" x="1667" y="2795" width="165" height="58" rx="15"/><rect class="b" x="1660" y="2788" width="165" height="58" rx="15"/><text class="t" x="1742.5" y="2826">Fisura anal</text></g>
<g id="n-hemorroides"><rect class="s" x="2008" y="2807" width="187" height="60" rx="15"/><rect class="b" x="2001" y="2800" width="187" height="60" rx="15"/><text class="t" x="2094.5" y="2839">Hemorroides</text></g>
<g id="n-fistulas"><rect class="s" x="2471" y="2751" width="213" height="58" rx="15"/><rect class="b" x="2464" y="2744" width="213" height="58" rx="15"/><text class="t" x="2570.5" y="2782">Fístulas anales</text></g>
<g id="n-grietas"><rect class="s" x="1649" y="2943" width="204" height="61" rx="15"/><rect class="b" x="1642" y="2936" width="204" height="61" rx="15"/><text class="t" x="1744" y="2975.5">Grietas anales</text></g>
<g id="n-traumatismo"><rect class="s" x="1658" y="3096" width="190" height="58" rx="15"/><rect class="b" x="1651" y="3089" width="190" height="58" rx="15"/><text class="t" x="1746" y="3127">Traumatismo</text></g>
<g id="n-dificultad"><rect class="s" x="1658" y="3261" width="185" height="90" rx="15"/><rect class="b" x="1651" y="3254" width="185" height="90" rx="15"/><text class="t" x="1743.5" y="3293.5">Dificultad de<tspan x="1743.5" dy="29">cicatrización</tspan></text></g>
<g id="n-analgesicos"><rect class="s" x="1447" y="3478" width="616" height="91" rx="15"/><rect class="b" x="1440" y="3471" width="616" height="91" rx="15"/><text class="t" x="1748" y="3511">Analgesicos, aumento de fibra, baños de asiento,<tspan x="1748" dy="29">disminuir presión de reposo. Tratamiento quirúrgico</tspan></text></g>
<g id="n-inflam-venas"><rect class="s" x="1999" y="2943" width="208" height="91" rx="15"/><rect class="b" x="1992" y="2936" width="208" height="91" rx="15"/><text class="t" x="2096" y="2976">Inflamación de<tspan x="2096" dy="29">venas en recto</tspan></text></g>
<g id="n-hemorragia"><rect class="s" x="2017" y="3126" width="181" height="116" rx="15"/><rect class="b" x="2010" y="3119" width="181" height="116" rx="15"/><text class="t" x="2100.5" y="3157">Hemorragia,<tspan x="2100.5" dy="29">protusión</tspan><tspan x="2100.5" dy="29">o dolor</tspan></text></g>
<g id="n-colonoscopia"><rect class="s" x="2005" y="3318" width="197" height="119" rx="15"/><rect class="b" x="1998" y="3311" width="197" height="119" rx="15"/><text class="t" x="2096.5" y="3350.5">Colonoscópia<tspan x="2096.5" dy="29">Busqueda de</tspan><tspan x="2096.5" dy="29">cáncer</tspan></text></g>
<g id="n-comunicacion"><rect class="s" x="2332" y="2895" width="500" height="120" rx="15"/><rect class="b" x="2325" y="2888" width="500" height="120" rx="15"/><text class="t" x="2575" y="2928">Comunicación anormal de una cavidad<tspan x="2575" dy="29">de absceso con un orificio interno dentro</tspan><tspan x="2575" dy="29">del conducto anal</tspan></text></g>
<g id="n-linea"><rect class="s" x="2485" y="3094" width="204" height="58" rx="15"/><rect class="b" x="2478" y="3087" width="204" height="58" rx="15"/><text class="t" x="2580" y="3125">Línea dentada</text></g>
<g id="n-interes"><rect class="s" x="2364" y="3240" width="445" height="90" rx="15"/><rect class="b" x="2357" y="3233" width="445" height="90" rx="15"/><text class="t" x="2579.5" y="3272.5">Interesfinteriana, transesfinterianas,<tspan x="2579.5" dy="29">supraesfinterianas o extrafinteriana</tspan></text></g>
<g id="n-sedal"><rect class="s" x="2450" y="3416" width="273" height="99" rx="15"/><rect class="b" x="2443" y="3409" width="273" height="99" rx="15"/><text class="t" x="2579.5" y="3453">Colocación de sedal.<tspan x="2579.5" dy="29">o fistulotomía simple</tspan></text></g>
</svg>
